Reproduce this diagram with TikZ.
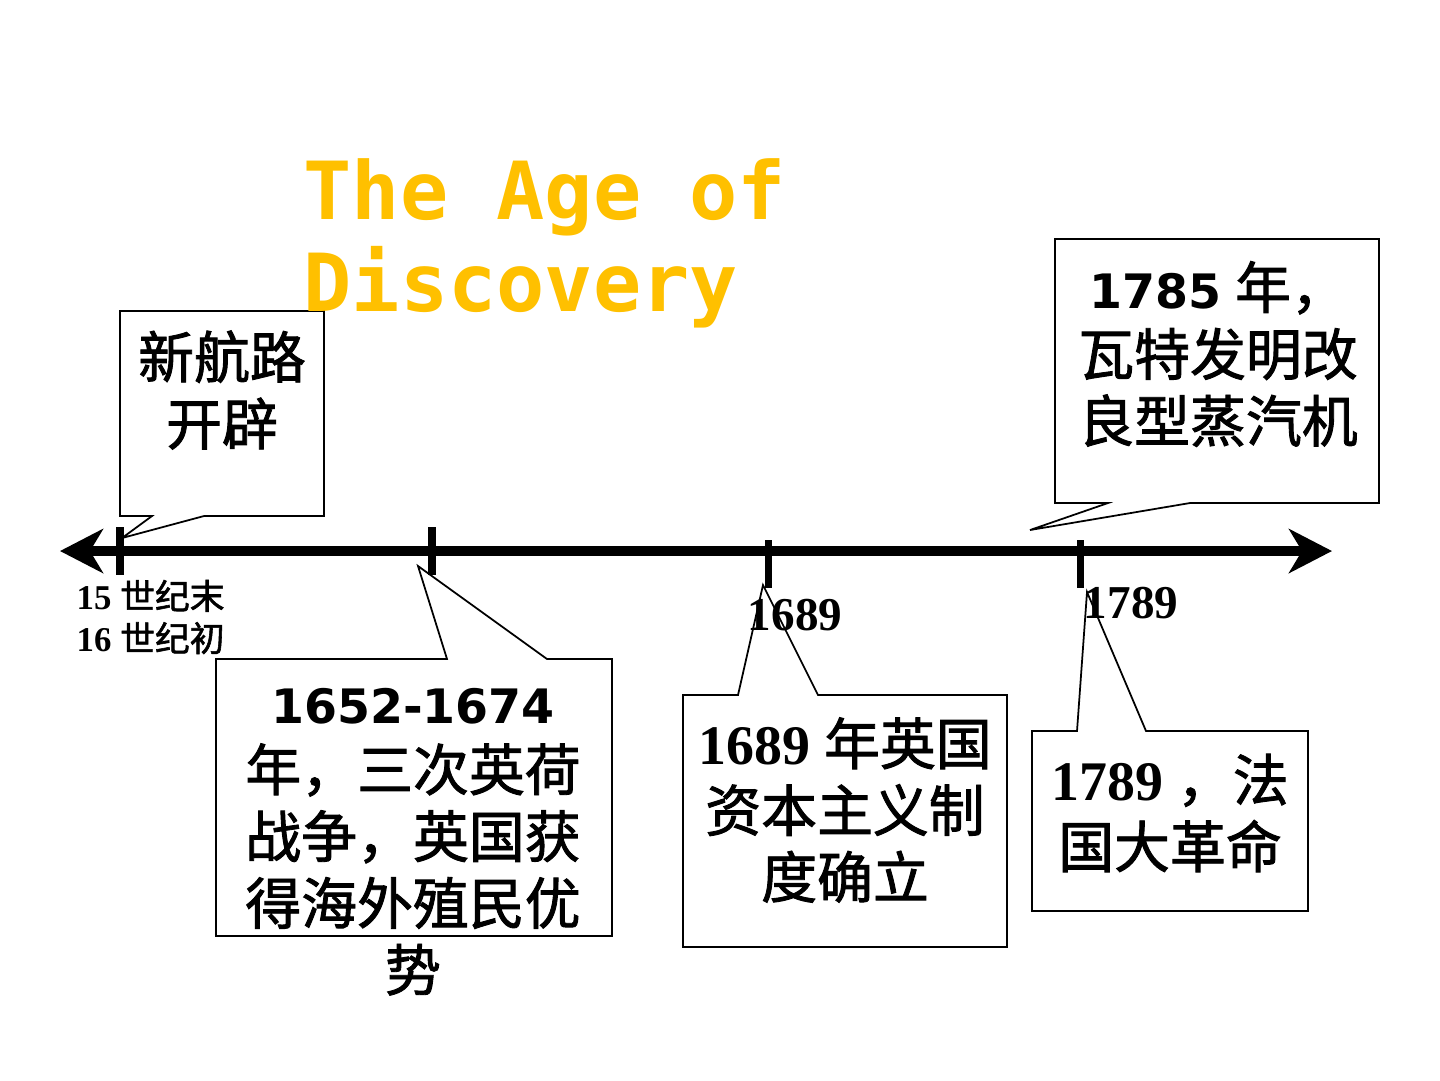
\documentclass[tikz,border=0pt]{standalone}
\usepackage{fontspec}
\setmainfont{Liberation Serif}
\newfontfamily\cjkfont{Noto Sans CJK SC}[BoldFont=Noto Sans CJK SC, BoldFeatures={FakeBold=1.6}]
\newfontfamily\monofont{DejaVu Sans Mono}
\newfontfamily\dvfont{DejaVu Sans}
\usetikzlibrary{arrows.meta, positioning}
\definecolor{titlegold}{RGB}{255,192,0}
\newcommand{\zh}[1]{{\cjkfont #1}}
\newcommand{\dvnum}[1]{{\dvfont\fontsize{13.5}{19}\selectfont #1}}

\begin{document}
\begin{tikzpicture}[x=0.1mm, y=-0.1mm,
    timeline/.style={line width=2.8pt, {Stealth[length=4.3mm, width=4.4mm, inset=1.3mm]}-{Stealth[length=4.3mm, width=4.4mm, inset=1.3mm]}},
    tickmark/.style={line width=2pt},
    balloon/.style={draw=black, line width=0.5pt},
    note/.style={align=center, inner sep=0pt, font=\bfseries\fontsize{15.9}{19}\selectfont},
    eralabel/.style={align=left, inner sep=0pt, font=\bfseries\fontsize{9.9}{12}\selectfont},
    yearlabel/.style={inner sep=0pt, font=\bfseries\fontsize{13.4}{16}\selectfont}]
        \useasboundingbox (0,0) rectangle (1440,1080);

        % Time axis
        \coordinate (lineL) at (60,551);
        \coordinate (lineR) at (1332,551);
        \draw[timeline] (lineL) -- (lineR);
        \foreach \x in {120, 432} \draw[tickmark] (\x,527) -- (\x,575);
        \foreach \x in {768, 1080} \draw[tickmark] (\x,540) -- (\x,588);

        % Callouts
        \draw[balloon] (120,311) -- (324,311) -- (324,516) -- (204,516) -- (122,538) -- (152,516) -- (120,516) -- cycle;
        \draw[balloon] (216,659) -- (447,659) -- (418,566) -- (547,659) -- (612,659) -- (612,936) -- (216,936) -- cycle;
        \draw[balloon] (683,695) -- (738,695) -- (763,585) -- (818,695) -- (1007,695) -- (1007,947) -- (683,947) -- cycle;
        \draw[balloon] (1032,731) -- (1077,731) -- (1087,592) -- (1146,731) -- (1308,731) -- (1308,911) -- (1032,911) -- cycle;
        \draw[balloon] (1055,239) -- (1379,239) -- (1379,503) -- (1190,503) -- (1030,530) -- (1108,503) -- (1055,503) -- cycle;

        % Labels on the axis
        \node[eralabel, anchor=west] (era) at (76,617) {15 \zh{世纪末}\\16 \zh{世纪初}};
        \node[yearlabel] (y1689) at (795,615) {1689};
        \node[yearlabel] (y1789) at (1131,603) {1789};

        % Callout texts
        \node[note] (route) at (222,390) {\zh{新航路}\\\zh{开辟}};
        \node[note] (war) at (413,842) {\dvnum{1652-1674}\\\zh{年，三次英荷}\\\zh{战争，英国获}\\\zh{得海外殖民优}\\\zh{势}};
        \node[note] (england) at (845,810) {1689 \zh{年英国}\\\zh{资本主义制}\\\zh{度确立}};
        \node[note] (france) at (1170,813) {1789 \zh{，法}\\\zh{国大革命}};
        \node[note] (watt) at (1218,354) {\dvnum{1785} \zh{年，}\\\zh{瓦特发明改}\\\zh{良型蒸汽机}};

        % Title
        \node[anchor=north west, inner sep=0pt, align=left, text=titlegold,
              font=\monofont\bfseries\fontsize{22.8}{26.2}\selectfont] (title) at (303,158) {The Age of\\Discovery};
      \end{tikzpicture}
\end{document}
